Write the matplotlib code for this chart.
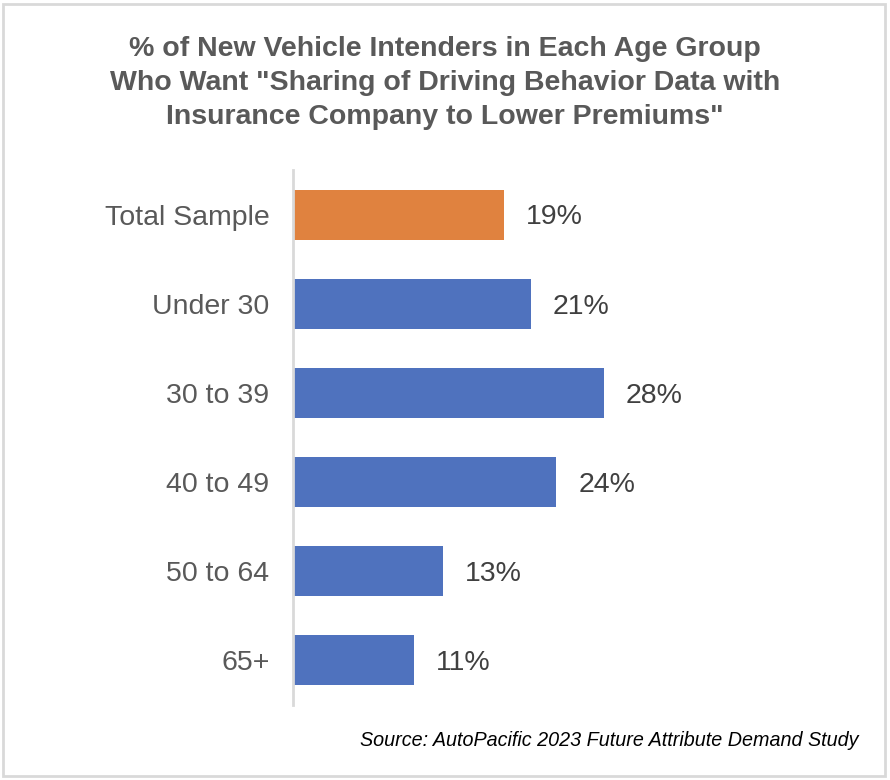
import numpy as np
import matplotlib.pyplot as plt
from matplotlib.patches import Rectangle

plt.rcParams['font.family'] = ['Liberation Sans', 'DejaVu Sans']

categories = ['Total Sample', 'Under 30', '30 to 39', '40 to 49', '50 to 64', '65+']
values = [19.0, 21.4, 28.0, 23.7, 13.5, 10.9]   # bar lengths (unrounded)
labels = ['19%', '21%', '28%', '24%', '13%', '11%']
bar_colors = ['#E0823F', '#4F72BE', '#4F72BE', '#4F72BE', '#4F72BE', '#4F72BE']

fig = plt.figure(figsize=(8.9, 7.8), dpi=100)
ax = fig.add_axes([293/890, 1 - 705/780, (848 - 293)/890, (705 - 170)/780])

ind = np.arange(len(categories))
bars = ax.barh(ind, values, height=0.56, color=bar_colors)
ax.set_ylim(len(categories) - 0.5, -0.5)
ax.set_xlim(0, 50)

ax.set_yticks(ind)
ax.set_yticklabels(categories, fontsize=20.5, color='#595959')
ax.tick_params(axis='y', length=0, pad=17)
ax.set_xticks([])
for s in ['top', 'right', 'bottom']:
    ax.spines[s].set_visible(False)
ax.spines['left'].set_color('#D9D9D9')
ax.spines['left'].set_linewidth(2)

for rect, lab in zip(bars, labels):
    ax.annotate(lab, (rect.get_width(), rect.get_y() + rect.get_height()/2),
                xytext=(16, -2), textcoords='offset points', va='center', ha='left',
                fontsize=20.5, color='#404040')

fig.text(0.5, 0.893,
         '% of New Vehicle Intenders in Each Age Group\n'
         'Who Want "Sharing of Driving Behavior Data with\n'
         'Insurance Company to Lower Premiums"',
         ha='center', va='center', fontsize=20.5, fontweight='bold',
         color='#595959', linespacing=1.4)

fig.text(858/890, 1 - 740/780, 'Source: AutoPacific 2023 Future Attribute Demand Study',
         ha='right', va='center', fontsize=14.2, style='italic', color='black')

fig.patches.append(Rectangle((3/890, 4/780), 882/890, 772/780, transform=fig.transFigure,
                             fill=False, edgecolor='#D9D9D9', linewidth=2))

fig.savefig('out.png', dpi=100)
